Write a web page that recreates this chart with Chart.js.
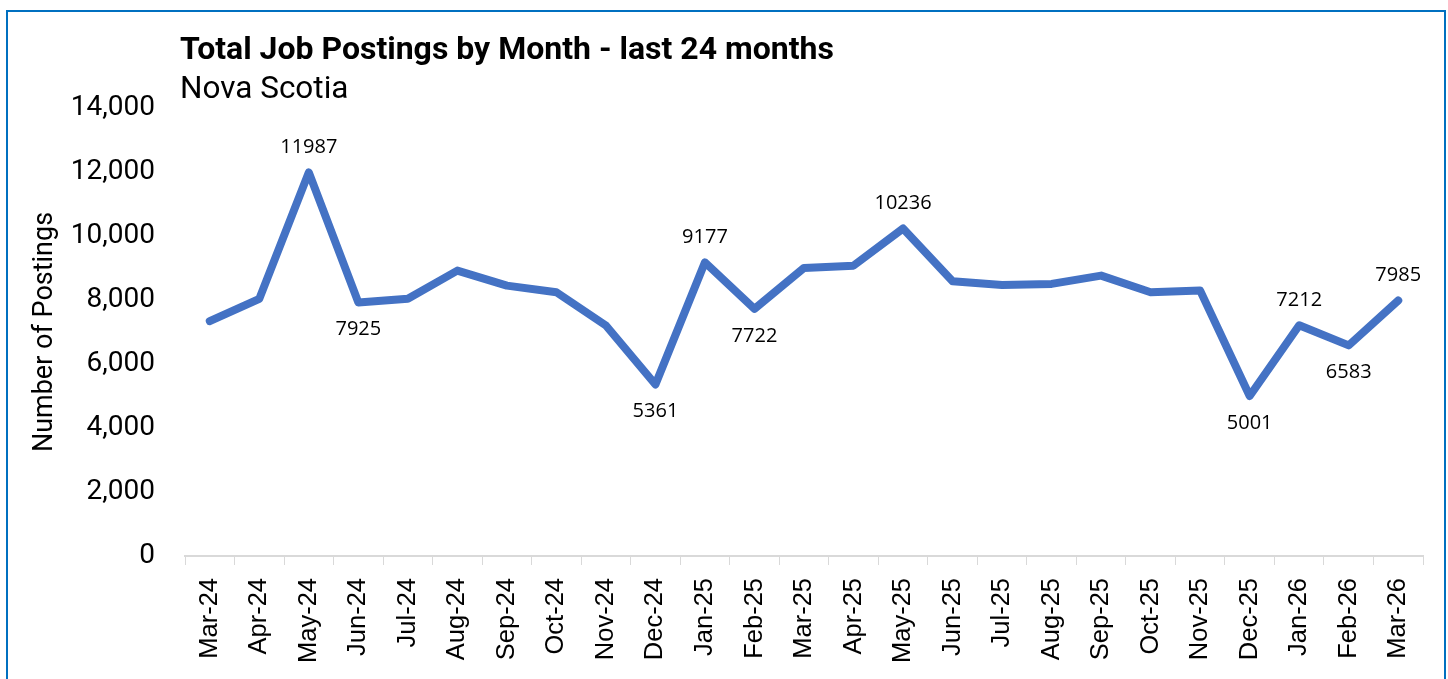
<!DOCTYPE html>
<html>
<head>
<meta charset="utf-8">
<script src="https://cdn.jsdelivr.net/npm/chart.js@4.4.0/dist/chart.umd.min.js"></script>
<style>
  html, body { margin: 0; padding: 0; background: #fff; }
  #wrap { position: relative; width: 1448px; height: 679px; overflow: hidden; }
  #frame { position: absolute; left: 6px; top: 10px; width: 1440px; height: 700px; border: 2px solid #0070C0; box-sizing: border-box; }
  #title { position: absolute; left: 180px; top: 29px; font: bold 32px Roboto, sans-serif; color: #000; white-space: nowrap; }
  #subtitle { position: absolute; left: 180px; top: 69px; font: 31.5px Roboto, sans-serif; color: #000; white-space: nowrap; }
  canvas { position: absolute; left: 0; top: 0; }
</style>
</head>
<body>
<div id="wrap">
  <div id="frame"></div>
  <canvas id="postingsChart" width="1448" height="679"></canvas>
  <div id="title">Total Job Postings by Month - last 24 months</div>
  <div id="subtitle">Nova Scotia</div>
</div>
<script>
// Chart data
const months = ["Mar-24", "Apr-24", "May-24", "Jun-24", "Jul-24", "Aug-24", "Sep-24", "Oct-24", "Nov-24", "Dec-24",
  "Jan-25", "Feb-25", "Mar-25", "Apr-25", "May-25", "Jun-25", "Jul-25", "Aug-25", "Sep-25", "Oct-25", "Nov-25",
  "Dec-25", "Jan-26", "Feb-26", "Mar-26"];
const postings = [7337, 8036, 11987, 7925, 8036, 8918, 8450, 8242, 7203, 5361,
  9177, 7722, 9002, 9074, 10236, 8585, 8472, 8503, 8762, 8242, 8294,
  5001, 7212, 6583, 7985];
// which points get a value label, and where (above / below)
const labelled = { 2: "above", 3: "below", 9: "below", 10: "above", 11: "below", 14: "above", 21: "below", 22: "above", 23: "below", 24: "above" };
const yTicks = [0, 2000, 4000, 6000, 8000, 10000, 12000, 14000];

// Draw the value labels next to points
const valueLabels = {
  id: "valueLabels",
  afterDatasetsDraw(chart) {
    const ctx = chart.ctx;
    const pts = chart.getDatasetMeta(0).data;
    ctx.save();
    ctx.font = "20px 'Open Sans', sans-serif";
    ctx.fillStyle = "#000";
    ctx.textAlign = "center";
    Object.keys(labelled).forEach((k) => {
      const i = Number(k);
      const p = pts[i];
      if (labelled[k] === "above") {
        ctx.textBaseline = "bottom";
        ctx.fillText(String(postings[i]), p.x, p.y - 15);
      } else {
        ctx.textBaseline = "top";
        ctx.fillText(String(postings[i]), p.x, p.y + 17);
      }
    });
    ctx.restore();
  },
};

const ctx = document.getElementById("postingsChart").getContext("2d");
new Chart(ctx, {
  type: "line",
  data: {
    labels: months,
    datasets: [
      {
        label: "Job Postings",
        data: postings,
        borderColor: "#4472C4",
        borderWidth: 8,
        pointRadius: 0,
        tension: 0,
        borderJoinStyle: "round",
        borderCapStyle: "round",
      },
    ],
  },
  options: {
    responsive: false,
    animation: false,
    layout: {
      padding: { left: 29, right: 25, top: 108, bottom: 0 },
    },
    plugins: {
      legend: { display: false },
      tooltip: { enabled: false },
    },
    scales: {
      x: {
        offset: true,
        grid: {
          offset: true,
          drawOnChartArea: false,
          color: "#d9d9d9",
          tickLength: 9,
        },
        border: { color: "#d9d9d9", width: 2 },
        ticks: {
          color: "#000",
          maxRotation: 90,
          minRotation: 90,
          padding: 13,
          font: { family: "'Liberation Sans', Arial, sans-serif", size: 25.5 },
        },
        afterFit: (scale) => { scale.height = 123; },
      },
      y: {
        min: 0,
        max: 14000,
        afterBuildTicks: (scale) => { scale.ticks = yTicks.map((v) => ({ value: v })); },
        grid: { display: false },
        border: { display: false },
        ticks: {
          color: "#000",
          padding: 22,
          font: { family: "Roboto, sans-serif", size: 28 },
          callback: (v) => v.toLocaleString("en-US"),
        },
        title: {
          display: true,
          text: "Number of Postings",
          color: "#000",
          font: { family: "Roboto, sans-serif", size: 27 },
          padding: { top: 0, bottom: 0 },
        },
        afterFit: (scale) => { scale.width = 156; },
      },
    },
  },
  plugins: [valueLabels],
});
</script>
</body>
</html>
